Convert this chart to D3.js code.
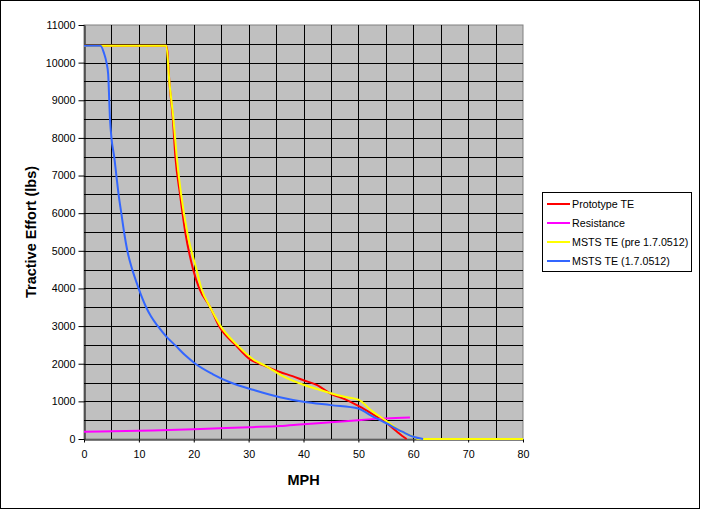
<!DOCTYPE html>
<html lang="en">
  <head>
    <meta charset="utf-8">
    <title>Tractive effort</title>
    <script src="https://cdn.jsdelivr.net/npm/d3@7"></script>
    <style type="text/css">
      body { margin: 0; background: #fff; }
      .tick text { font-family: "Liberation Sans", Arial, sans-serif; font-size: 10.7px; fill: #000; }
      .title { font-family: "Liberation Sans", Arial, sans-serif; font-size: 14.5px; font-weight: bold; fill: #000; }
      .legendText { font-family: "Liberation Sans", Arial, sans-serif; font-size: 10.7px; fill: #000; }
      .line { fill: none; stroke-width: 2; stroke-linejoin: round; }
    </style>
  </head>
  <body>
    <svg id="chart" width="701" height="510"></svg>
    <script type="text/javascript">
      // series: [mph, lbs]
      var prototypeTE = [[0,10450],[15,10450],[15.2,10300],[15.55,9500],[16.2,8500],[16.65,7500],[17.5,6500],
        [18.45,5500],[19.9,4500],[21,4000],[23,3500],[24.6,3000],[27.6,2500],[30.4,2100],[32,2000],[35.7,1780],
        [38,1670],[40,1560],[42.5,1430],[45,1200],[47.5,1060],[50,880],[52.5,670],[55,440],[57,200],[58,80],[58.8,0]];
      var resistance = [[0,190],[10,220],[20,257],[30,315],[35.7,345],[40,395],[45,443],[50,500],[55,548],[59.4,572]];
      var mstsPre = [[0,10450],[15,10450],[15.55,9500],[16.3,8500],[16.9,7500],[17.7,6500],[18.8,5500],[20.5,4500],
        [21.4,4000],[23,3500],[24.9,3000],[27.9,2500],[31,2100],[33,1950],[36.4,1655],[40,1440],[42.5,1330],
        [45,1215],[47.5,1120],[50,1045],[52.5,740],[55,490],[57.5,230],[60,62],[61,0],[80,0]];
      var msts = [[0,10450],[3,10450],[3.65,10250],[4.1,10000],[4.4,9700],[4.74,8500],[5,8000],[5.5,7500],
        [5.9,7000],[6.3,6500],[6.8,6000],[7.3,5500],[7.9,5000],[8.8,4500],[9.6,4150],[10.4,3820],[11.2,3540],
        [12.2,3260],[13.5,2990],[15,2720],[16.7,2480],[18.4,2230],[20.3,2000],[23.5,1720],[26.7,1500],[31,1300],
        [35.7,1110],[40,990],[45,900],[50,810],[52,650],[55,425],[58,195],[60,60],[61.8,0]];

      var seriesNames = ["Prototype TE", "Resistance", "MSTS TE (pre 1.7.0512)", "MSTS TE (1.7.0512)"];
      var seriesColors = ["#FF0000", "#FF00FF", "#FFFF00", "#3366FF"];
      var seriesData = [prototypeTE, resistance, mstsPre, msts];

      var xTicks = d3.range(0, 81, 10),
        yTicks = d3.range(0, 11001, 1000),
        xGrid = d3.range(0, 81, 5),
        yGrid = d3.range(0, 11001, 500);

      var svg = d3.select("#chart"),
        plot = {left: 84, top: 25, right: 523, bottom: 439};

      // outer frame
      svg.append("rect")
        .attr("x", 0.5).attr("y", 0.5)
        .attr("width", 699).attr("height", 508)
        .attr("fill", "#fff").attr("stroke", "#000");

      var x = d3.scaleLinear().domain([0, 80]).range([plot.left, plot.right]);
      var y = d3.scaleLinear().domain([0, 11000]).range([plot.bottom, plot.top]);

      svg.append("rect")
        .attr("x", plot.left).attr("y", plot.top)
        .attr("width", plot.right - plot.left).attr("height", plot.bottom - plot.top)
        .attr("fill", "#C0C0C0").attr("stroke", "#808080");

      // grid
      var grid = svg.append("g").attr("stroke", "#000").attr("stroke-width", 1);
      grid.selectAll(".vg").data(xGrid.slice(1, -1)).enter().append("line")
        .attr("x1", function(d) { return Math.round(x(d)) + 0.5; })
        .attr("x2", function(d) { return Math.round(x(d)) + 0.5; })
        .attr("y1", plot.top).attr("y2", plot.bottom);
      grid.selectAll(".hg").data(yGrid.slice(1, -1)).enter().append("line")
        .attr("y1", function(d) { return Math.round(y(d)) + 0.5; })
        .attr("y2", function(d) { return Math.round(y(d)) + 0.5; })
        .attr("x1", plot.left).attr("x2", plot.right);

      // axes
      var xAxis = d3.axisBottom(x).tickValues(xTicks).tickSize(3).tickPadding(8).tickSizeOuter(0);
      svg.append("g")
        .attr("transform", "translate(0," + (plot.bottom + 0.5) + ")")
        .call(xAxis)
        .call(function(g) { g.select(".domain").attr("stroke", "#000"); });

      var yAxis = d3.axisLeft(y).tickValues(yTicks).tickFormat(d3.format("d"))
        .tickSize(6).tickPadding(3).tickSizeOuter(0);
      svg.append("g")
        .attr("transform", "translate(" + (plot.left + 0.5) + ",0)")
        .call(yAxis)
        .call(function(g) { g.select(".domain").attr("stroke", "#000"); });

      // series
      var line = d3.line()
        .x(function(d) { return x(d[0]); })
        .y(function(d) { return y(d[1]); })
        .curve(d3.curveMonotoneX);

      seriesData.forEach(function(s, i) {
        svg.append("path")
          .datum(s)
          .attr("class", "line")
          .attr("stroke", seriesColors[i])
          .attr("d", line);
      });

      // titles
      svg.append("text")
        .attr("class", "title")
        .attr("x", (plot.left + plot.right) / 2)
        .attr("y", 485)
        .style("text-anchor", "middle")
        .text("MPH");

      svg.append("text")
        .attr("class", "title")
        .attr("transform", "translate(36," + (plot.top + plot.bottom) / 2 + ") rotate(-90)")
        .style("text-anchor", "middle")
        .text("Tractive Effort (lbs)");

      // legend
      var legend = svg.append("g");
      legend.append("rect")
        .attr("x", 542.5).attr("y", 192.5)
        .attr("width", 149).attr("height", 79)
        .attr("fill", "#fff").attr("stroke", "#000");

      seriesNames.forEach(function(name, i) {
        var ly = 204 + i * 19;
        legend.append("line")
          .attr("x1", 547).attr("x2", 570)
          .attr("y1", ly).attr("y2", ly)
          .attr("stroke", seriesColors[i]).attr("stroke-width", 2);
        legend.append("text")
          .attr("class", "legendText")
          .attr("x", 572).attr("y", ly + 4)
          .text(name);
      });
    </script>
  </body>
</html>
